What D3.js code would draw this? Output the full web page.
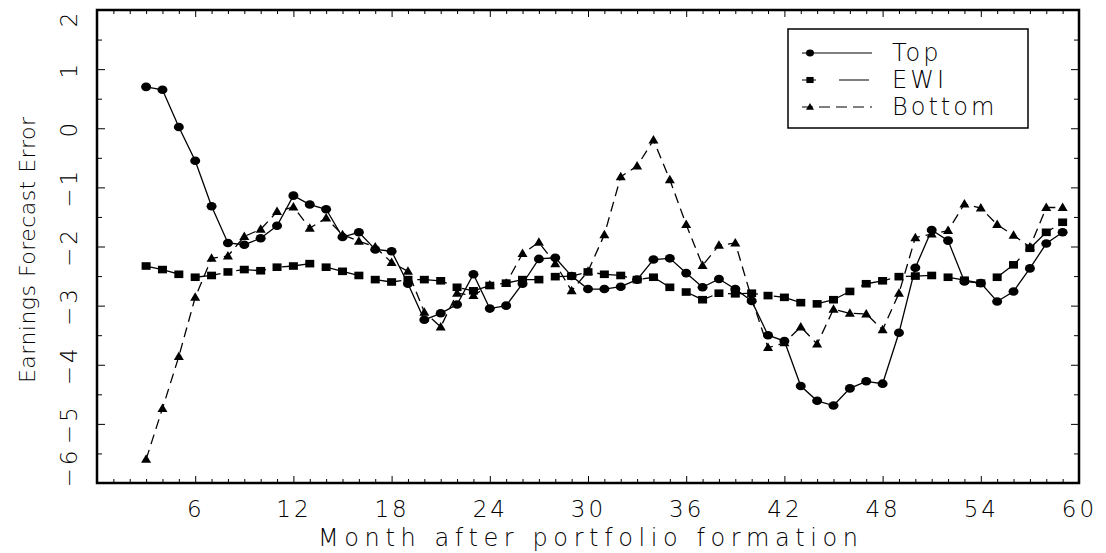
<!DOCTYPE html>
<html>
<head>
<meta charset="utf-8">
<script src="https://cdn.jsdelivr.net/npm/d3@7"></script>
<style>
  html, body { margin: 0; padding: 0; background: #fff; }
  svg { display: block; }
  text { font-family: "DejaVu Sans", "Liberation Sans", sans-serif; font-weight: 200; fill: #000; }
</style>
</head>
<body>
<svg id="chart" width="1106" height="553"></svg>
<script>
// ---- data ----
const months = [3,4,5,6,7,8,9,10,11,12,13,14,15,16,17,18,19,20,21,22,23,24,25,26,27,28,29,30,
  31,32,33,34,35,36,37,38,39,40,41,42,43,44,45,46,47,48,49,50,51,52,53,54,55,56,57,58,59];
const topVals = [0.70,0.65,0.02,-0.55,-1.32,-1.94,-1.97,-1.86,-1.65,-1.14,-1.29,-1.37,-1.84,-1.76,
  -2.05,-2.08,-2.63,-3.24,-3.13,-2.98,-2.47,-3.05,-3.00,-2.63,-2.21,-2.19,-2.50,-2.72,-2.72,-2.68,
  -2.56,-2.22,-2.20,-2.45,-2.69,-2.55,-2.72,-2.92,-3.50,-3.60,-4.36,-4.61,-4.69,-4.40,-4.28,-4.32,
  -3.46,-2.36,-1.72,-1.90,-2.59,-2.62,-2.93,-2.76,-2.37,-1.95,-1.76];
const ewiVals = [-2.33,-2.39,-2.47,-2.52,-2.49,-2.43,-2.39,-2.41,-2.35,-2.33,-2.29,-2.35,-2.42,-2.49,
  -2.56,-2.60,-2.56,-2.56,-2.58,-2.69,-2.75,-2.66,-2.62,-2.56,-2.56,-2.51,-2.50,-2.43,-2.47,-2.49,
  -2.56,-2.52,-2.69,-2.77,-2.90,-2.79,-2.80,-2.79,-2.83,-2.86,-2.95,-2.97,-2.90,-2.76,-2.63,-2.58,
  -2.51,-2.50,-2.49,-2.52,-2.57,-2.62,-2.52,-2.31,-2.03,-1.76,-1.59];
const bottomVals = [-5.60,-4.74,-3.86,-2.86,-2.20,-2.16,-1.83,-1.71,-1.41,-1.33,-1.69,-1.52,-1.80,-1.91,
  -2.01,-2.27,-2.42,-3.11,-3.36,-2.79,-2.83,-2.65,-2.62,-2.12,-1.93,-2.29,-2.75,-2.42,-1.80,-0.82,
  -0.64,-0.20,-0.87,-1.63,-2.32,-1.98,-1.94,-2.88,-3.71,-3.63,-3.36,-3.65,-3.06,-3.13,-3.14,-3.41,
  -2.79,-1.85,-1.79,-1.73,-1.28,-1.35,-1.63,-1.81,-2.01,-1.34,-1.34];
const seriesNames = ["Top", "EWI", "Bottom"];
const xMajorTicks = [6,12,18,24,30,36,42,48,54,60];
const xMinorTicks = [1,2,3,4,5,7,8,9,10,11,13,14,15,16,17,19,20,21,22,23,25,26,27,28,29,31,32,33,34,35,
  37,38,39,40,41,43,44,45,46,47,49,50,51,52,53,55,56,57,58,59];
const yMajorTicks = [-6,-5,-4,-3,-2,-1,0,1,2];
const yMinorTicks = [-5.5,-4.5,-3.5,-2.5,-1.5,-0.5,0.5,1.5];
const xTitle = "Month after portfolio formation";
const yTitle = "Earnings Forecast Error";

// ---- layout ----
const svg = d3.select("#chart");
const L = 97, R = 1079, T = 10, B = 483;
const x = d3.scaleLinear().domain([0, 60]).range([L, R]);
const y = d3.scaleLinear().domain([-6, 2]).range([B, T]);

// ticks (inward)
function tickAxis(gen, tx, ty) {
  const g = svg.append("g").attr("transform", `translate(${tx},${ty})`).call(gen);
  g.select(".domain").remove();
  g.selectAll("line").attr("stroke", "#000").attr("stroke-width", 1);
  return g;
}
tickAxis(d3.axisBottom(x).tickValues(xMinorTicks).tickSize(-4).tickFormat(""), 0, B);
tickAxis(d3.axisTop(x).tickValues(xMinorTicks).tickSize(-4).tickFormat(""), 0, T);
tickAxis(d3.axisTop(x).tickValues(xMajorTicks).tickSize(-7).tickFormat(""), 0, T);
tickAxis(d3.axisLeft(y).tickValues(yMinorTicks).tickSize(-5).tickFormat(""), L, 0);
tickAxis(d3.axisRight(y).tickValues(yMinorTicks).tickSize(-5).tickFormat(""), R, 0);
tickAxis(d3.axisRight(y).tickValues(yMajorTicks).tickSize(-8).tickFormat(""), R, 0);

const xAx = tickAxis(d3.axisBottom(x).tickValues(xMajorTicks).tickSize(-7).tickFormat(d3.format("d")), 0, B);
xAx.selectAll("text")
  .attr("y", 34).attr("dy", null)
  .style("font-size", "23px").style("letter-spacing", "3px")
  .attr("fill", "#000");

const yAx = tickAxis(d3.axisLeft(y).tickValues(yMajorTicks).tickSize(-8).tickFormat(d => d < 0 ? "\u2212" + Math.abs(d) : d), L, 0);
yAx.selectAll(".tick text")
  .attr("x", null).attr("dy", null)
  .attr("text-anchor", "middle")
  .style("font-size", "23px").style("letter-spacing", "3px")
  .attr("fill", "#000")
  .attr("transform", function(d) {
    const yy = Math.max(T + 8, Math.min(B - 16, y(d))) - y(d);
    return `translate(${77 - L},${yy}) rotate(-90)`;
  });

// titles
svg.append("text")
  .attr("x", (L + R) / 2).attr("y", 546)
  .attr("text-anchor", "middle")
  .attr("textLength", 540).attr("lengthAdjust", "spacing")
  .style("font-size", "24px")
  .text(xTitle);
svg.append("text")
  .attr("transform", "translate(35,250) rotate(-90)")
  .attr("text-anchor", "middle")
  .attr("textLength", 266).attr("lengthAdjust", "spacing")
  .style("font-size", "22px")
  .text(yTitle);

// ---- series ----
const series = [
  { name: seriesNames[0], vals: topVals, dash: null, marker: "circle" },
  { name: seriesNames[1], vals: ewiVals, dash: "30,16", marker: "square" },
  { name: seriesNames[2], vals: bottomVals, dash: "10,6", marker: "triangle" }
];
const line = d3.line().x(d => x(d[0])).y(d => y(d[1]));

function drawMarker(g, type, cx, cy, s) {
  if (type === "circle") {
    g.append("ellipse").attr("cx", cx).attr("cy", cy).attr("rx", 5 * s).attr("ry", 4.3 * s).attr("fill", "#000");
  } else if (type === "square") {
    g.append("rect").attr("x", cx - 4.5 * s).attr("y", cy - 3.8 * s).attr("width", 9 * s).attr("height", 7.6 * s).attr("fill", "#000");
  } else {
    g.append("path").attr("d", `M${cx},${cy - 5 * s}L${cx + 5 * s},${cy + 3.5 * s}L${cx - 5 * s},${cy + 3.5 * s}Z`).attr("fill", "#000");
  }
}

series.forEach(s => {
  const pts = months.map((m, i) => [m, s.vals[i]]);
  svg.append("path")
    .attr("d", line(pts))
    .attr("fill", "none").attr("stroke", "#000").attr("stroke-width", 1.3)
    .attr("stroke-dasharray", s.dash);
  const g = svg.append("g");
  pts.forEach(p => drawMarker(g, s.marker, x(p[0]), y(p[1]), 1));
});

// frame
svg.append("rect").attr("x", L).attr("y", T).attr("width", R - L).attr("height", B - T)
  .attr("fill", "none").attr("stroke", "#000").attr("stroke-width", 2.5);

// ---- legend ----
const lg = svg.append("g");
lg.append("rect").attr("x", 788).attr("y", 29).attr("width", 240).attr("height", 99)
  .attr("fill", "#fff").attr("stroke", "#000").attr("stroke-width", 1.5);
const legDash = [null, "14,23,30,100", "11,6"];
series.forEach((s, i) => {
  const ly = 53 + i * 27;
  lg.append("line").attr("x1", 802).attr("x2", 872).attr("y1", ly).attr("y2", ly)
    .attr("stroke", "#000").attr("stroke-width", 1.2).attr("stroke-dasharray", legDash[i]);
  drawMarker(lg, s.marker, 810, ly, 0.8);
  lg.append("text").attr("x", 892).attr("y", ly + 8)
    .style("font-size", "24px").style("letter-spacing", "3px")
    .text(s.name);
});
</script>
</body>
</html>
